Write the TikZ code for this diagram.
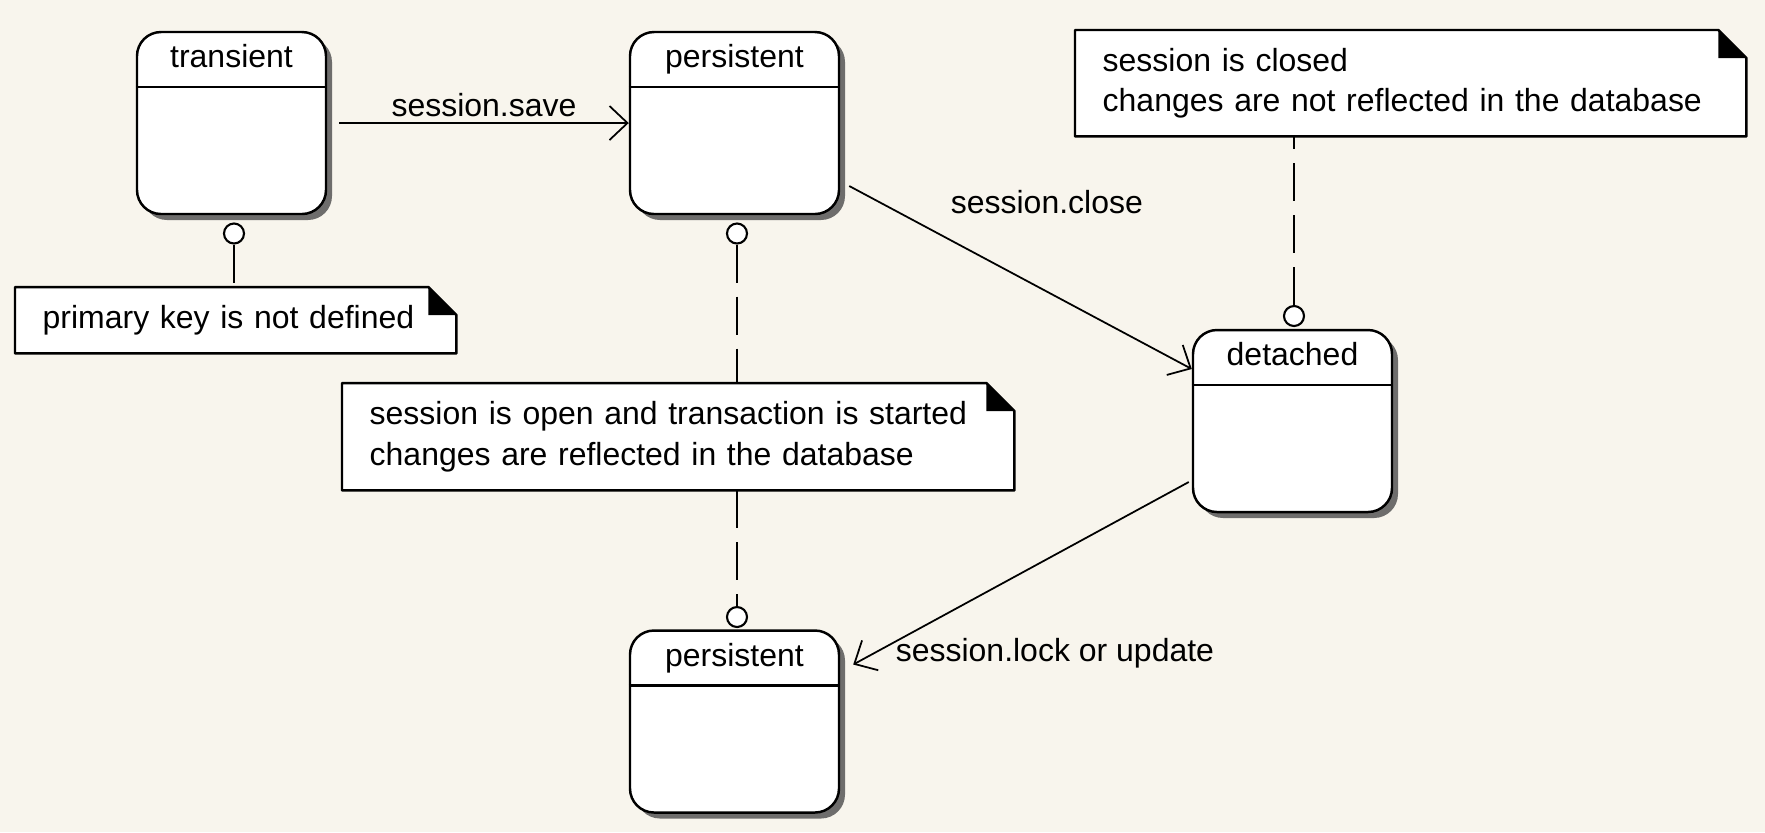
\documentclass[tikz,border=0pt]{standalone}
\usepackage{fontspec}
\setmainfont{Liberation Sans}
\usetikzlibrary{arrows.meta,shadows}
\definecolor{paper}{RGB}{248,245,237}
\tikzset{
  state/.style={draw,line width=.7pt,fill=white,rounded corners=2.4mm,minimum height=18.2mm,
    drop shadow={shadow xshift=.6mm,shadow yshift=-.6mm,fill=black!70,opacity=.8}},
  note/.style={fill=white,inner xsep=2.7mm,inner ysep=0pt,align=left,anchor=north west},
  knob/.style={circle,draw,fill=white,line width=.6pt,minimum size=2mm,inner sep=0pt},
  link/.style={line width=.6pt,dash pattern=on 3.8mm off 1.4mm},
  trans/.style={line width=.5pt,-{Straight Barb[length=1.8mm,width=3.4mm]}}
}
\begin{document}
\begin{tikzpicture}[x=.1mm,y=-.1mm,font=\fontsize{9.1}{11.4}\selectfont,line join=round]
\fill[paper] (0,0) rectangle (1765,832);
\useasboundingbox (0,0) rectangle (1765,832);
% states
\foreach \n/\x/\y/\w/\t in {tr/231.5/123/18.9/transient,p1/734.5/123/20.9/persistent,
  p2/734.5/721.5/20.9/persistent,de/1292.5/421/19.9/detached}{
  \node[state,minimum width=\w mm] (\n) at (\x,\y) {};
  \draw[line width=.7pt] ([yshift=-5.6mm]\n.north west) -- ([yshift=-5.6mm]\n.north east);
  \node[anchor=base] (\n-name) at ([yshift=-3.7mm]\n.north) {\t};
}
% notes
\node[note,text width=38.6mm,minimum height=6.5mm] (n1) at (15,287) {primary key is not defined};
\node[note,text width=61.7mm,minimum height=10.6mm] (n2) at (342,383)
  {session is open and transaction is started\\changes are reflected in the database};
\node[note,text width=61.6mm,minimum height=10.5mm] (n3) at (1075,30)
  {session is closed\\changes are not reflected in the database};
\foreach \n in {n1,n2,n3}{
  \fill[paper] ([xshift=-2.8mm]\n.north east) -- (\n.north east) -- ([yshift=-2.8mm]\n.north east) -- cycle;
  \draw[line width=.7pt] (\n.north west) -- ([xshift=-2.8mm]\n.north east) -- ([yshift=-2.8mm]\n.north east)
    -- (\n.south east) -- (\n.south west) -- cycle;
  \fill ([xshift=-2.8mm]\n.north east) |- ([yshift=-2.8mm]\n.north east) -- cycle;
}
% note anchors
\node[knob] (tr-o) at (234,233.5) {};
\node[knob] (p1-o) at (737,233.5) {};
\node[knob] (p2-o) at (737,617) {};
\node[knob] (de-o) at (1294,316) {};
\draw[link] (tr-o) -- (tr-o |- n1.north);
\draw[link] (p1-o) -- (p1-o |- n2.north);
\draw[link] (n2.south -| p2-o) -- (p2-o);
\draw[link] (de-o) -- (de-o |- n3.south);
% transitions
\draw[trans] ([xshift=1.2mm]tr.east) -- (p1.west) node[midway,above=0mm,inner sep=.5mm] {session.save};
\draw[trans] ([shift={(9,63)}]p1.east) -- ([shift={(0,-52)}]de.west)
  node[pos=.26,anchor=west,yshift=3.2mm] {session.close};
\draw[trans] ([shift={(-3,61)}]de.west) -- ([shift={(13,-57)}]p2.east)
  node[at end,anchor=west,xshift=3mm,yshift=1.1mm] {session.lock or update};
\end{tikzpicture}
\end{document}
